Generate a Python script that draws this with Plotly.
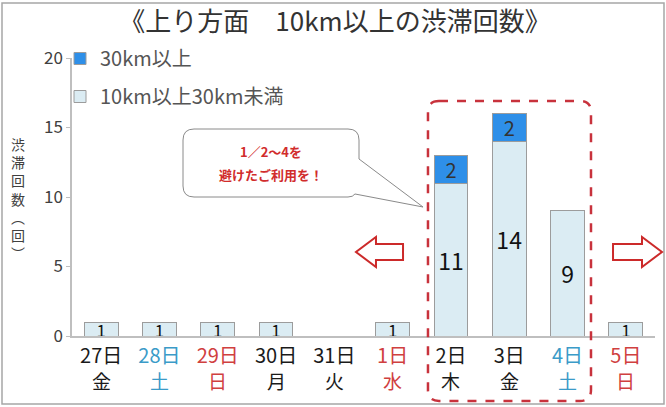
import plotly.graph_objects as go

# data
days = ["27日", "28日", "29日", "30日", "31日", "1日", "2日", "3日", "4日", "5日"]
weekdays = ["金", "土", "日", "月", "火", "水", "木", "金", "土", "日"]
day_colors = ["#1a1a1a", "#3b9bc8", "#d0403f", "#1a1a1a", "#1a1a1a",
              "#d0403f", "#1a1a1a", "#1a1a1a", "#3b9bc8", "#d0403f"]
jam_10_30 = [1, 1, 1, 1, 0, 1, 11, 14, 9, 1]   # 10km以上30km未満
jam_30 = [0, 0, 0, 0, 0, 0, 2, 2, 0, 0]        # 30km以上
callout_lines = ["1／2～4を", "避けたご利用を！"]

FONT = "Noto Sans CJK JP"

# plot area in pixels (used only for the decorations)
L, R, T, B = 72, 655, 58, 336


def pp(px, py):
    return (px - L) / (R - L), (B - py) / (B - T)


def pt(px, py):
    x, y = pp(px, py)
    return f"{x:.4f},{y:.4f}"


def rounded_rect(x0, y0, x1, y1, r):
    return ("M " + pt(x0 + r, y0) + " L " + pt(x1 - r, y0) +
            " Q " + pt(x1, y0) + " " + pt(x1, y0 + r) +
            " L " + pt(x1, y1 - r) +
            " Q " + pt(x1, y1) + " " + pt(x1 - r, y1) +
            " L " + pt(x0 + r, y1) +
            " Q " + pt(x0, y1) + " " + pt(x0, y1 - r) +
            " L " + pt(x0, y0 + r) +
            " Q " + pt(x0, y0) + " " + pt(x0 + r, y0) + " Z")


def callout(x0, y0, x1, y1, r, tip):
    return ("M " + pt(x0 + r, y0) + " L " + pt(x1 - r, y0) +
            " Q " + pt(x1, y0) + " " + pt(x1, y0 + r) +
            " L " + pt(x1, y0 + 30) + " L " + pt(*tip) +
            " L " + pt(x1 - 4, y1 - 3) +
            " Q " + pt(x1 - 6, y1) + " " + pt(x1 - r, y1) +
            " L " + pt(x0 + r, y1) +
            " Q " + pt(x0, y1) + " " + pt(x0, y1 - r) +
            " L " + pt(x0, y0 + r) +
            " Q " + pt(x0, y0) + " " + pt(x0 + r, y0) + " Z")


def arrow(tail_x, tip_x, cy):
    d = 1 if tip_x > tail_x else -1
    head = tip_x - d * 20
    pts = [(tail_x, cy - 8), (head, cy - 8), (head, cy - 15), (tip_x, cy),
           (head, cy + 15), (head, cy + 8), (tail_x, cy + 8)]
    return "M " + " L ".join(pt(*p) for p in pts) + " Z"


fig = go.Figure()
fig.add_trace(go.Bar(
    x=days, y=jam_10_30, name="10km以上30km未満", legendrank=2, legendgroup="b",
    marker=dict(color="#dbecf3", line=dict(color="#9c9c9c", width=1)),
    text=[str(v) if v else "" for v in jam_10_30],
    textposition="inside", insidetextanchor="middle", constraintext="none",
    textangle=0,
    textfont=dict(family=FONT, size=[23 if v > 5 else 17 for v in jam_10_30],
                  color="#111111"),
    cliponaxis=False, hoverinfo="skip",
))
fig.add_trace(go.Bar(
    x=days, y=jam_30, name="30km以上", legendrank=1, legendgroup="a",
    marker=dict(color="#2e8fe8", line=dict(color="#9c9c9c", width=1)),
    text=[str(v) if v else "" for v in jam_30],
    textposition="inside", insidetextanchor="middle", constraintext="none",
    textangle=0, textfont=dict(family=FONT, size=20, color="#333333"),
    cliponaxis=False, hoverinfo="skip",
))

shapes = [
    # frame of the picture
    dict(type="rect", xref="paper", yref="paper",
         x0=pp(2, 0)[0], x1=pp(664, 0)[0], y0=pp(0, 404)[1], y1=pp(0, 3)[1],
         line=dict(color="#a6a6a6", width=1.5), layer="below"),
    # dashed box around 2日-4日
    dict(type="path", xref="paper", yref="paper",
         path=rounded_rect(428, 101, 591, 401, 11),
         line=dict(color="#c8323c", width=2.5, dash="dash")),
    # speech bubble
    dict(type="path", xref="paper", yref="paper",
         path=callout(183, 129, 359, 197, 11, (423, 207)),
         fillcolor="white", line=dict(color="#8a8a8a", width=1)),
    # arrows
    dict(type="path", xref="paper", yref="paper", path=arrow(403, 356, 252),
         fillcolor="white", line=dict(color="#cc2a2a", width=2)),
    dict(type="path", xref="paper", yref="paper", path=arrow(613, 662, 252),
         fillcolor="white", line=dict(color="#cc2a2a", width=2)),
]

annotations = [
    # vertical axis title, one character per line
    dict(xref="paper", yref="paper", x=pp(18, 0)[0], y=pp(0, 198)[1],
         text="渋<br>滞<br>回<br>数<br>︵<br>回<br>︶", showarrow=False,
         xanchor="center", yanchor="middle",
         font=dict(family=FONT, size=14, color="#404040")),
]
for line, py in zip(callout_lines, [151, 174]):
    annotations.append(dict(xref="paper", yref="paper", x=pp(271, 0)[0],
                            y=pp(0, py)[1], text=f"<b>{line}</b>",
                            showarrow=False, xanchor="center", yanchor="middle",
                            font=dict(family=FONT, size=13, color="#d12c2c")))
for d, w, c in zip(days, weekdays, day_colors):
    annotations.append(dict(x=d, xref="x", yref="paper", y=pp(0, 381)[1],
                            text=w, showarrow=False, yanchor="middle",
                            font=dict(family=FONT, size=19, color=c)))

fig.update_layout(
    width=666, height=407,
    margin=dict(l=L, r=666 - R, t=T, b=407 - B, autoexpand=False),
    paper_bgcolor="white", plot_bgcolor="white",
    barmode="stack", bargap=0.42,
    font=dict(family=FONT, color="#404040"),
    title=dict(text="《上り方面　10km以上の渋滞回数》", x=0.503, xanchor="center",
               y=1 - 22 / 407, yanchor="middle", yref="container",
               font=dict(family=FONT, size=26, color="#333333")),
    legend=dict(x=pp(60, 0)[0], y=pp(0, 39)[1], xanchor="left", yanchor="top",
                traceorder="grouped", tracegroupgap=9, itemwidth=30,
                bgcolor="rgba(0,0,0,0)",
                font=dict(family=FONT, size=20, color="#555555")),
    xaxis=dict(tickmode="array", tickvals=days,
               ticktext=[f"<span style='color:{c}'>{d}</span>"
                         for d, c in zip(days, day_colors)],
               tickfont=dict(family=FONT, size=20), ticklabelstandoff=1,
               showline=True, linecolor="#bfbfbf", linewidth=1.5,
               ticks="", showgrid=False),
    yaxis=dict(range=[0, 20], dtick=5, showline=True, linecolor="#bfbfbf",
               linewidth=1.5, ticks="outside", ticklen=4, tickcolor="#bfbfbf",
               showgrid=False, zeroline=False,
               tickfont=dict(family=FONT, size=17, color="#404040")),
    shapes=shapes, annotations=annotations,
    showlegend=True,
)

fig.write_html("out.html", config={"displayModeBar": False},
               post_script="document.body.style.margin='0';")
